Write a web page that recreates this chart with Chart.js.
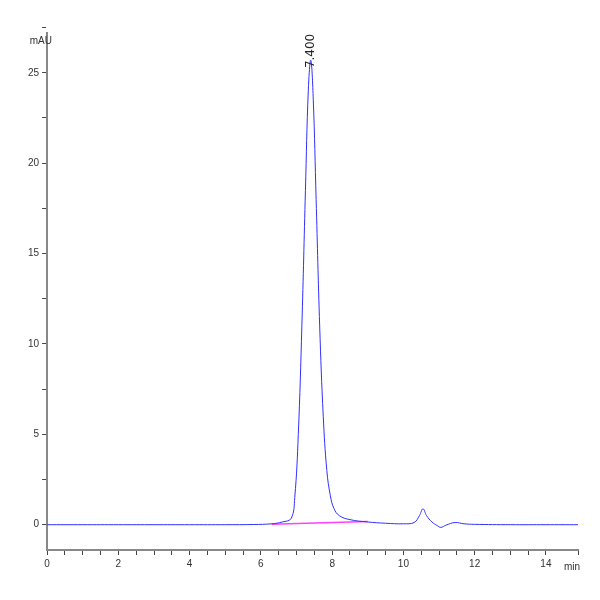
<!DOCTYPE html><html><head><script src="https://cdn.jsdelivr.net/npm/chart.js@4"></script>
<style>body{margin:0;background:#fff}#w{width:600px;height:600px}</style></head><body><div id="w"><canvas id="c"></canvas></div><script>
const times=[0,1,2,3,4,5,5.8,6.3,6.6,6.85,6.95,7.05,7.15,7.25,7.33,7.4,7.47,7.55,7.65,7.75,7.85,7.95,8.05,8.2,8.5,9.0,9.5,10.0,10.3,10.45,10.55,10.65,10.8,10.95,11.05,11.2,11.45,11.7,12.0,13,14,14.9];
const signal=[0,0,0,0,0,0,0.01,0.05,0.15,0.35,1.5,5,11,18.5,24,25.7,23.5,18,11,6,3,1.6,0.9,0.5,0.28,0.15,0.08,0.05,0.12,0.5,0.88,0.5,0.15,-0.05,-0.15,-0.02,0.12,0.05,0.02,0,0,0];
const baseT=[6.3,9.0], baseV=[0.03,0.17];
const peakT=7.4, peakLabel="7.400";
const lbl={id:'lbl',afterDatasetsDraw(ch){const x=ch.scales.x.getPixelForValue(peakT),y=ch.scales.y.getPixelForValue(25.7);const c=ch.ctx;c.save();c.translate(x,y+8);c.rotate(-Math.PI/2);c.font='12px DejaVu Sans';c.fillStyle='#222';c.textAlign='left';c.textBaseline='middle';c.fillText(peakLabel,0,0);c.restore();
c.save();c.font='10px Liberation Sans Narrow, Liberation Sans';c.fillStyle='#333';c.textAlign='right';c.textBaseline='middle';c.fillText('mAU',ch.scales.y.left+27,41);c.textAlign='left';c.fillText('min',ch.scales.x.right-14,567);c.restore();}};
new Chart(document.getElementById('c'),{type:'line',data:{datasets:[
{data:times.map((t,i)=>({x:t,y:signal[i]})),borderColor:'#3030ff',borderWidth:1,pointRadius:0,tension:0.4},
{data:baseT.map((t,i)=>({x:t,y:baseV[i]})),borderColor:'#ff40ff',borderWidth:1.5,pointRadius:0}]},
options:{responsive:true,maintainAspectRatio:false,animation:false,layout:{padding:{top:33,right:22,left:25,bottom:27}},plugins:{legend:{display:false},tooltip:{enabled:false}},
scales:{x:{type:'linear',min:0,max:14.9,grid:{display:true,drawOnChartArea:false,tickLength:5,color:'#444'},border:{color:'#888',width:2},ticks:{stepSize:0.5,autoSkip:false,color:'#333',font:{size:10,family:'Liberation Sans'},callback:v=>v%2===0?v:''}},
y:{min:-1.4,max:27.2,afterBuildTicks(s){s.ticks=[];for(let v=0;v<=27.5;v+=2.5)s.ticks.push({value:v});},grid:{display:true,drawOnChartArea:false,tickLength:5,color:'#444'},border:{color:'#888',width:2},ticks:{autoSkip:false,color:'#333',font:{size:10,family:'Liberation Sans'},callback:v=>v%5===0?v:''}}}},plugins:[lbl]});
</script></body></html>
